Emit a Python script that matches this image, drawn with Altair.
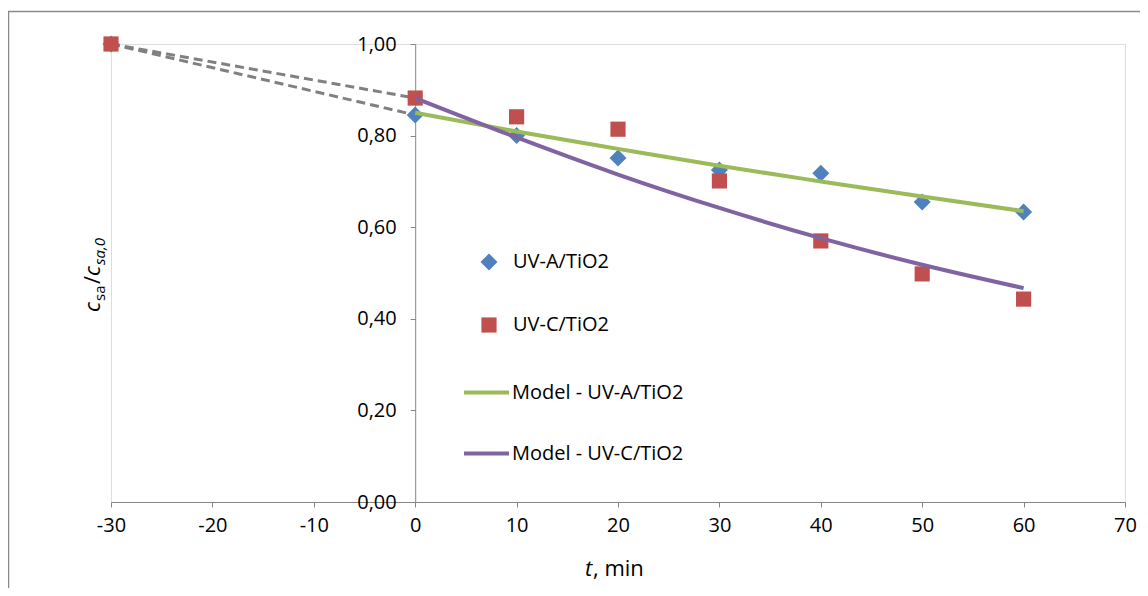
import altair as alt
import pandas as pd

# ---- data ----
t_obs = [-30, 0, 10, 20, 30, 40, 50, 60]
uva_obs = [1.00, 0.845, 0.800, 0.751, 0.725, 0.718, 0.655, 0.633]
uvc_obs = [1.00, 0.882, 0.841, 0.814, 0.701, 0.570, 0.498, 0.443]

t_model = [0, 10, 20, 30, 40, 50, 60]
uva_model = [0.850, 0.809, 0.771, 0.734, 0.700, 0.667, 0.635]
uvc_model = [0.882, 0.796, 0.715, 0.642, 0.576, 0.518, 0.467]

t_dark = [-30, 0]
uva_dark = [1.00, 0.845]
uvc_dark = [1.00, 0.882]

series_names = ["UV-A/TiO2", "UV-C/TiO2"]
model_names = ["Model - UV-A/TiO2", "Model - UV-C/TiO2"]
x_ticks = [-30, -20, -10, 0, 10, 20, 30, 40, 50, 60, 70]
y_ticks = [0.0, 0.2, 0.4, 0.6, 0.8, 1.0]

# ---- styling ----
BLUE, RED, GREEN, PURPLE = "#4F81BD", "#C0504D", "#9BBB59", "#8064A2"
AXIS_GRAY = "#868686"
FONT = "Open Sans"
W, H = 1014, 458
X_MIN, X_MAX = -30, 70

obs_df = pd.DataFrame(
    {"t": t_obs * 2, "v": uva_obs + uvc_obs,
     "series": [series_names[0]] * len(t_obs) + [series_names[1]] * len(t_obs)}
)
model_df = pd.DataFrame(
    {"t": t_model * 2, "v": uva_model + uvc_model,
     "model": [model_names[0]] * len(t_model) + [model_names[1]] * len(t_model)}
)
dark_df = pd.DataFrame(
    {"t": t_dark * 2, "v": uva_dark + uvc_dark,
     "line": ["a"] * len(t_dark) + ["c"] * len(t_dark)}
)

y_axis_offset = -W * (0 - X_MIN) / (X_MAX - X_MIN)

x_enc = alt.X(
    "t:Q",
    scale=alt.Scale(domain=[X_MIN, X_MAX], nice=False),
    axis=alt.Axis(values=x_ticks, title=None, grid=False, domainColor=AXIS_GRAY,
                  tickColor=AXIS_GRAY, tickSize=5, labelFontSize=20, labelFont=FONT,
                  labelColor="black", labelPadding=8, labelFlush=False,
                  labelExpr="datum.value < 0 ? '-' + abs(datum.value) : '' + datum.value"),
)
y_enc = alt.Y(
    "v:Q",
    scale=alt.Scale(domain=[0, 1], nice=False),
    axis=alt.Axis(values=y_ticks, title=None, grid=False, domainColor=AXIS_GRAY,
                  tickColor=AXIS_GRAY, tickSize=5, labelFontSize=20, labelFont=FONT,
                  labelColor="black", labelPadding=14, offset=y_axis_offset,
                  labelFlush=False,
                  labelExpr="replace(format(datum.value, '.2f'), '.', ',')"),
)

dark = alt.Chart(dark_df).mark_line(
    color="#808080", strokeWidth=3, strokeDash=[9, 5]
).encode(x=x_enc, y=y_enc, detail="line:N")

pt_legend = alt.Legend(title=None, orient="none", legendX=368, legendY=208,
                       symbolSize=225, labelOffset=14, rowPadding=43,
                       labelFontSize=20, labelFont=FONT, labelColor="black",
                       labelLimit=400, symbolStrokeWidth=0)
points = alt.Chart(obs_df).mark_point(filled=True, opacity=1).encode(
    x=x_enc, y=y_enc,
    color=alt.Color("series:N", scale=alt.Scale(domain=series_names, range=[BLUE, RED]),
                    legend=pt_legend),
    shape=alt.Shape("series:N", scale=alt.Scale(domain=series_names, range=["diamond", "square"]),
                    legend=pt_legend),
    size=alt.Size("series:N", scale=alt.Scale(domain=series_names, range=[290, 230]),
                  legend=None),
    order=alt.Order("series:N"),
)

lines = alt.Chart(model_df).mark_line(strokeWidth=4, interpolate="monotone").encode(
    x=x_enc, y=y_enc,
    stroke=alt.Stroke("model:N", scale=alt.Scale(domain=model_names, range=[GREEN, PURPLE]),
                      legend=alt.Legend(title=None, orient="none", legendX=351, legendY=324,
                                        symbolType="stroke", symbolSize=2025,
                                        symbolStrokeWidth=4, labelOffset=1, rowPadding=26,
                                        labelFontSize=20, labelFont=FONT, labelColor="black",
                                        labelLimit=400)),
)

one = pd.DataFrame({"k": [0]})


def txt(s, x, y, size=22, italic=False, angle=0):
    return alt.Chart(one).mark_text(
        text=s, font=FONT, fontSize=size, fontStyle="italic" if italic else "normal",
        align="left", baseline="alphabetic", angle=angle, color="black"
    ).encode(x=alt.value(x), y=alt.value(y))


# y-axis title  c_sa / c_sa,0 (rotated, reading upwards)
ytitle = [
    txt("c", -11, 268, 22, True, 270),
    txt("sa", -6, 257, 15, False, 270),
    txt("/", -11, 240, 22, False, 270),
    txt("c", -11, 232, 22, True, 270),
    txt("sa,0", -6, 221, 15, True, 270),
]
# x-axis title  t, min
xtitle = [
    txt("t", 474, 532, 22, True),
    txt(", min", 482, 532, 22, False),
]

# chart frame
frame_top = alt.Chart(one).mark_rule(color="#8a8a8a", strokeWidth=1.5).encode(
    x=alt.value(-103), x2=alt.value(W + 20), y=alt.value(-32.5))
frame_left = alt.Chart(one).mark_rule(color="#8a8a8a", strokeWidth=1.5).encode(
    x=alt.value(-102.5), y=alt.value(-32.5), y2=alt.value(H + 90))

chart = alt.layer(
    dark, points, lines, *ytitle, *xtitle, frame_top, frame_left
).properties(
    width=W, height=H,
    autosize=alt.AutoSizeParams(type="none"),
    padding={"left": 103, "top": 36, "right": 15, "bottom": 86},
).configure_view(strokeWidth=0).configure(font=FONT)

chart.save("out.html", embed_options={"renderer": "svg", "actions": False})
